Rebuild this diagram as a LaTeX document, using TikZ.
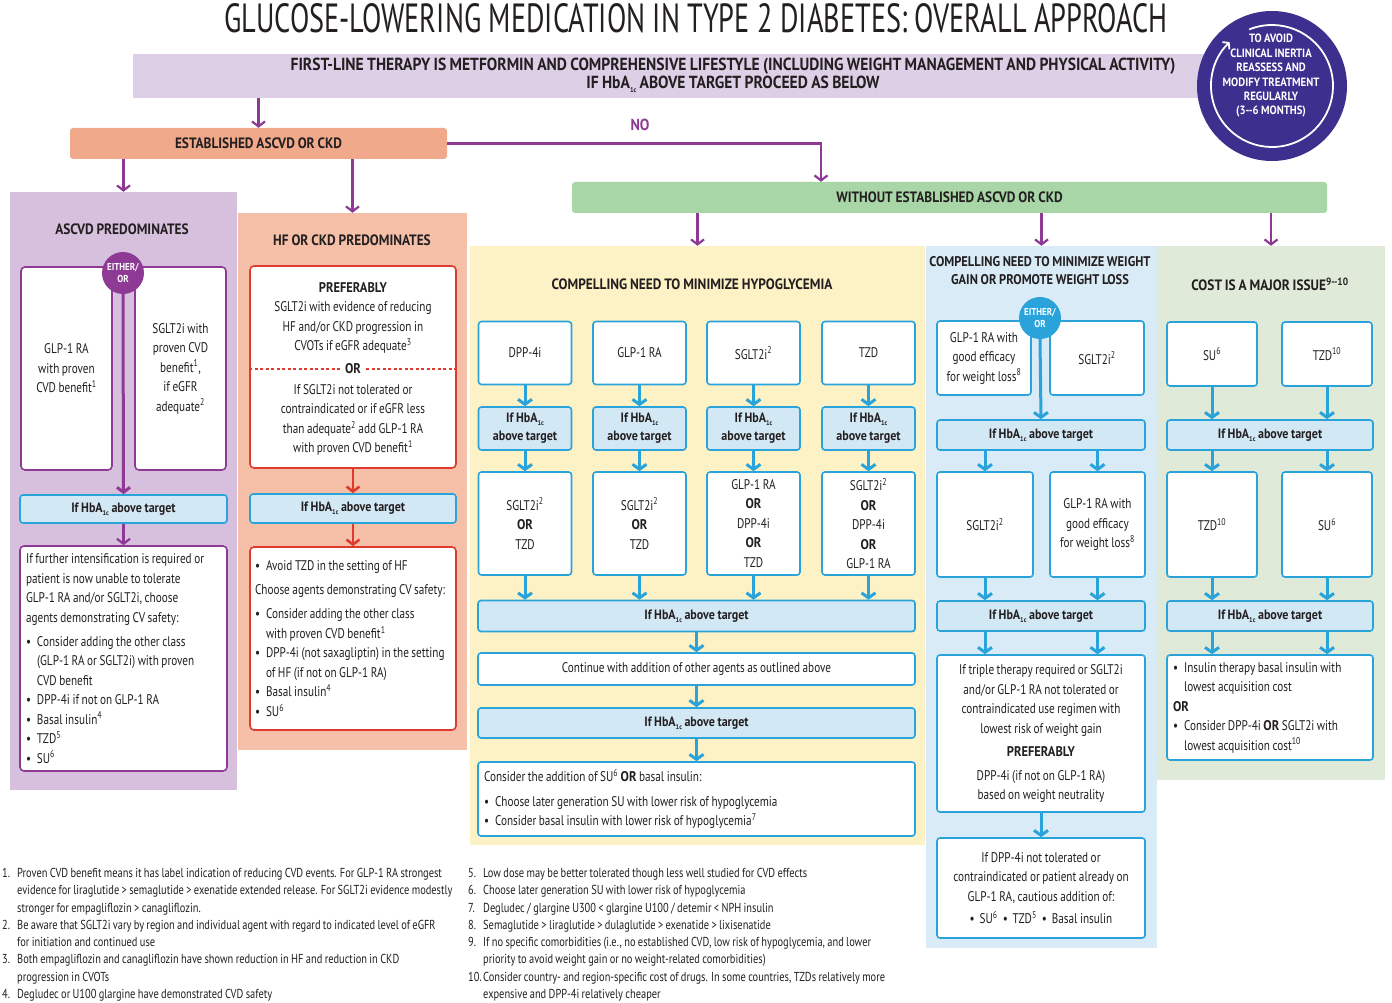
\documentclass[tikz,border=0pt]{standalone}
\usepackage{fontspec}
\usepackage{graphicx}
\setmainfont{PT Sans}[FakeStretch=0.8, WordSpace=0.85]
\newfontfamily\hdfont{PT Sans}[FakeStretch=0.89, WordSpace=0.85]
\newfontfamily\titlefont{PT Sans}[FakeStretch=0.6]
\usetikzlibrary{arrows.meta,calc}
\definecolor{purp}{HTML}{8E3A95}
\definecolor{lav}{HTML}{DDCFE6}
\definecolor{lavcol}{HTML}{D6C0DD}
\definecolor{salm}{HTML}{F0A98A}
\definecolor{salmcol}{HTML}{F5C0A7}
\definecolor{hfred}{HTML}{DE3B2E}
\definecolor{grn}{HTML}{A9D6A6}
\definecolor{grncol}{HTML}{DFEAD9}
\definecolor{yel}{HTML}{FDF2C6}
\definecolor{blucol}{HTML}{D9EBF6}
\definecolor{cyn}{HTML}{2AA3DA}
\definecolor{hbfill}{HTML}{D3E8F5}
\definecolor{indigo}{HTML}{3C2F8E}
\definecolor{ink}{HTML}{231F20}
\newcommand\hba{HbA\raisebox{-0.45ex}{\fontsize{7}{7}\selectfont 1c}}
\newcommand\sps[1]{\textsuperscript{#1}}
\newcommand\bodyfont{\fontsize{14}{19.5}\selectfont}
\newcommand\headfont{\hdfont\bfseries\fontsize{15}{18}\selectfont}
\newcommand\B[1]{{\hdfont\bfseries #1}}
\newcommand\bul{\makebox[11pt][l]{•}}
\newcommand\ind{\hspace*{11pt}}
\newcommand\fnum[1]{\makebox[15pt][l]{#1}}
\hyphenpenalty=10000
\begin{document}
\begin{tikzpicture}[x=1pt,y=-1pt,
  base/.style={inner sep=0pt, align=center, font=\bodyfont, text=ink},
  sz/.style 2 args={minimum width=#1pt, minimum height=#2pt},
  colbg/.style={inner sep=0pt, draw=none},
  head/.style={base, font=\headfont},
  pbox/.style={base, draw=purp, line width=1.6pt, rounded corners=4pt, fill=white},
  rbox/.style={base, draw=hfred, line width=1.6pt, rounded corners=4pt, fill=white},
  cbox/.style={base, draw=cyn, line width=1.6pt, rounded corners=3pt, fill=white},
  hbox/.style={base, draw=cyn, line width=1.6pt, rounded corners=3pt, fill=hbfill, font=\hdfont\bfseries\fontsize{13.5}{18}\selectfont},
  lft/.style={align=flush left, text width=#1pt, inner xsep=6pt},
  parr/.style={draw=purp, line width=2.2pt, -{Straight Barb[length=5pt,width=13pt]}},
  rarr/.style={draw=hfred, line width=2.6pt, -{Straight Barb[length=5pt,width=13pt]}},
  carr/.style={draw=cyn, line width=3pt, -{Straight Barb[length=5pt,width=14pt]}},
  eo/.style={circle, inner sep=0pt, minimum size=42pt, text=white, align=center, font=\hdfont\bfseries\fontsize{10}{12}\selectfont}
]
\useasboundingbox (0,0) rectangle (1392,1003);
\fill[white] (0,0) rectangle (1392,1003);

% ---------- title and header
\node[base] (title) at (696,18.5) {\resizebox{943pt}{29pt}{\titlefont GLUCOSE-LOWERING MEDICATION IN TYPE 2 DIABETES: OVERALL APPROACH}};
\node[colbg, fill=lav, sz={1077}{44}] (hdr) at (671.5,76) {};
\node[base, font=\hdfont\bfseries\fontsize{17.5}{18}\selectfont] (hdrt) at (733,75) {FIRST-LINE THERAPY IS METFORMIN AND COMPREHENSIVE LIFESTYLE (INCLUDING WEIGHT MANAGEMENT AND PHYSICAL ACTIVITY)\\IF \hba{} ABOVE TARGET PROCEED AS BELOW};

\node[circle, fill=indigo, minimum size=150pt, inner sep=0pt] (circ) at (1272,86) {};
\draw[white, line width=1.8pt, -{Straight Barb[length=4pt,width=10pt]}] ([shift={(112:61pt)}]circ.center) arc[start angle=112, end angle=-226, radius=61pt];
\node[base, text=white, font=\hdfont\bfseries\fontsize{12}{14.4}\selectfont] (circt) at (1271,76) {TO AVOID\\CLINICAL INERTIA\\REASSESS AND\\MODIFY TREATMENT\\REGULARLY\\(3--6 MONTHS)};

% ---------- second level
\node[base, fill=salm, rounded corners=3pt, sz={377}{31}, font=\headfont] (est) at (258.5,143.5) {ESTABLISHED ASCVD OR CKD};
\node[base, text=purp, font=\hdfont\bfseries\fontsize{16}{16}\selectfont] (no) at (640,125) {NO};
\node[base, fill=grn, rounded corners=3pt, sz={755}{31}, font=\headfont] (wo) at (949.5,197.5) {WITHOUT ESTABLISHED ASCVD OR CKD};
\coordinate (nobend) at (821,146);

% ---------- column backgrounds
\node[colbg, fill=lavcol, sz={227}{598}] (ascol) at (123.5,491) {};
\node[colbg, fill=salmcol, sz={229}{537}] (hfcol) at (352.5,481.5) {};
\node[colbg, fill=yel, sz={455}{599}] (ycol) at (697.5,545.5) {};
\node[colbg, fill=blucol, sz={231}{702}] (wcol) at (1041.5,597) {};
\node[colbg, fill=grncol, sz={228}{534}] (ccol) at (1271,513) {};

\draw[parr] (hdr.south -| est.north) -- (est.north);
\draw[parr] (est.east) -| (nobend |- wo.north);
\draw[parr] (est.south -| ascol.north) -- (ascol.north);
\draw[parr] (est.south -| hfcol.north) -- (hfcol.north);
\draw[parr] (wo.south -| ycol.north) -- (ycol.north);
\draw[parr] (wo.south -| wcol.north) -- (wcol.north);
\draw[parr] (wo.south -| ccol.north) -- (ccol.north);

% ---------- ASCVD column
\node[head] (asti) at (122,229) {ASCVD PREDOMINATES};
\node[pbox, sz={91}{203}] (aL) at (66.5,368.5) {GLP-1 RA\\with proven\\CVD benefit\sps{1}};
\node[pbox, sz={91}{203}] (aR) at (180.5,368.5) {SGLT2i with\\proven CVD\\benefit\sps{1},\\if eGFR\\adequate\sps{2}};
\node[hbox, sz={207}{28}] (ah) at (123.5,509) {If \hba{} above target};
\node[pbox, sz={207}{225}, lft=195] (ab) at (123.5,658.5) {If further intensification is required or\\patient is now unable to tolerate\\GLP-1 RA and/or SGLT2i, choose\\agents demonstrating CV safety:\\[4.5pt]\bul Consider adding the other class\\\ind (GLP-1 RA or SGLT2i) with proven\\\ind CVD benefit\\\bul DPP-4i if not on GLP-1 RA\\\bul Basal insulin\sps{4}\\\bul TZD\sps{5}\\\bul SU\sps{6}};
\node[eo, fill=purp] (aeo) at (123,273) {EITHER/\\OR};
\draw[parr, line width=3pt] (aeo.south) -- (ah.north);
\draw[parr] (ah.south) -- (ab.north);

% ---------- HF column
\node[head] (hfti) at (352,240) {HF OR CKD PREDOMINATES};
\node[rbox, sz={206}{202}] (hT) at (353,367) {};
\node[base] (hTa) at (353,318) {\B{PREFERABLY}\\SGLT2i with evidence of reducing\\HF and/or CKD progression in\\CVOTs if eGFR adequate\sps{3}};
\node[base, font=\hdfont\bfseries\fontsize{14}{16}\selectfont, inner xsep=5pt] (hor) at (353,369) {OR};
\draw[hfred, line width=1.2pt, dash pattern=on 3pt off 2.5pt] (hT.west |- hor) -- (hor.west) (hor.east) -- (hT.east |- hor);
\node[base] (hTb) at (353,420) {If SGLT2i not tolerated or\\contraindicated or if eGFR less\\than adequate\sps{2} add GLP-1 RA\\with proven CVD benefit\sps{1}};
\node[hbox, sz={206}{29}] (hh) at (353,508.5) {If \hba{} above target};
\node[rbox, sz={206}{183}, lft=196, inner xsep=5pt] (hb) at (353,638.5) {\bul Avoid TZD in the setting of HF\\[4.5pt]Choose agents demonstrating CV safety:\\[5pt]\bul Consider adding the other class\\\ind with proven CVD benefit\sps{1}\\\bul DPP-4i (not saxagliptin) in the setting\\\ind of HF (if not on GLP-1 RA)\\\bul Basal insulin\sps{4}\\\bul SU\sps{6}};
\draw[rarr] (hT.south) -- (hh.north);
\draw[rarr] (hh.south) -- (hb.north);

% ---------- hypoglycemia column
\node[head] (yti) at (692,284) {COMPELLING NEED TO MINIMIZE HYPOGLYCEMIA};
\node[cbox, sz={93}{63}] (y1a) at (525,353) {DPP-4i};
\node[cbox, sz={93}{63}] (y1b) at (639.5,353) {GLP-1 RA};
\node[cbox, sz={93}{63}] (y1c) at (753.5,353) {SGLT2i\sps{2}};
\node[cbox, sz={93}{63}] (y1d) at (868.5,353) {TZD};
\node[hbox, sz={93}{43}] (y2a) at (525,428.5) {If \hba\\above target};
\node[hbox, sz={93}{43}] (y2b) at (639.5,428.5) {If \hba\\above target};
\node[hbox, sz={93}{43}] (y2c) at (753.5,428.5) {If \hba\\above target};
\node[hbox, sz={93}{43}] (y2d) at (868.5,428.5) {If \hba\\above target};
\node[cbox, sz={93}{103}] (y3a) at (525,523.5) {SGLT2i\sps{2}\\\B{OR}\\TZD};
\node[cbox, sz={93}{103}] (y3b) at (639.5,523.5) {SGLT2i\sps{2}\\\B{OR}\\TZD};
\node[cbox, sz={93}{103}] (y3c) at (753.5,523.5) {GLP-1 RA\\\B{OR}\\DPP-4i\\\B{OR}\\TZD};
\node[cbox, sz={93}{103}] (y3d) at (868.5,523.5) {SGLT2i\sps{2}\\\B{OR}\\DPP-4i\\\B{OR}\\GLP-1 RA};
\node[hbox, sz={437}{31}] (yh1) at (696.5,616) {If \hba{} above target};
\node[cbox, sz={437}{32}] (ycont) at (696.5,669) {Continue with addition of other agents as outlined above};
\node[hbox, sz={437}{30}] (yh2) at (696.5,723) {If \hba{} above target};
\node[cbox, sz={437}{74}, lft=425] (ybot) at (696.5,799) {Consider the addition of SU\sps{6} \B{OR} basal insulin:\\[5pt]\bul Choose later generation SU with lower risk of hypoglycemia\\\bul Consider basal insulin with lower risk of hypoglycemia\sps{7}};
\foreach \c in {a,b,c,d}{
  \draw[carr] (y1\c.south) -- (y2\c.north);
  \draw[carr] (y2\c.south) -- (y3\c.north);
  \draw[carr] (y3\c.south) -- (y3\c.south |- yh1.north);
}
\draw[carr] (yh1.south) -- (ycont.north);
\draw[carr] (ycont.south) -- (yh2.north);
\draw[carr] (yh2.south) -- (ybot.north);

% ---------- weight column
\node[head, font=\hdfont\bfseries\fontsize{14}{18}\selectfont] (wti) at (1040,271) {COMPELLING NEED TO MINIMIZE WEIGHT\\GAIN OR PROMOTE WEIGHT LOSS};
\node[cbox, sz={94}{74}] (wa) at (984,358) {GLP-1 RA with\\good efficacy\\for weight loss\sps{8}};
\node[cbox, sz={94}{74}] (wb) at (1097,358) {SGLT2i\sps{2}};
\node[hbox, sz={208}{30}] (wh1) at (1041,435) {If \hba{} above target};
\node[cbox, sz={96}{105}] (wb1) at (985,524.5) {SGLT2i\sps{2}};
\node[cbox, sz={95}{105}] (wb2) at (1097.5,524.5) {GLP-1 RA with\\good efficacy\\for weight loss\sps{8}};
\node[hbox, sz={208}{30}] (wh2) at (1041,616) {If \hba{} above target};
\node[cbox, sz={208}{157}] (wc) at (1041,733.5) {If triple therapy required or SGLT2i\\and/or GLP-1 RA not tolerated or\\contraindicated use regimen with\\lowest risk of weight gain\\[4pt]\B{PREFERABLY}\\[4pt]DPP-4i (if not on GLP-1 RA)\\based on weight neutrality};
\node[cbox, sz={208}{100}] (wd) at (1041,888) {If DPP-4i not tolerated or\\contraindicated or patient already on\\GLP-1 RA, cautious addition of:\\[3pt]•\, SU\sps{6}\ \ •\, TZD\sps{5}\ \ •\, Basal insulin};
\node[eo, fill=cyn] (weo) at (1040,318) {EITHER/\\OR};
\draw[carr] (weo.south) -- (wh1.north);
\draw[carr] (wb1.north |- wh1.south) -- (wb1.north);
\draw[carr] (wb2.north |- wh1.south) -- (wb2.north);
\draw[carr] (wb1.south) -- (wb1.south |- wh2.north);
\draw[carr] (wb2.south) -- (wb2.south |- wh2.north);
\draw[carr] (wb1.south |- wh2.south) -- (wb1.south |- wc.north);
\draw[carr] (wb2.south |- wh2.south) -- (wb2.south |- wc.north);
\draw[carr] (wc.south) -- (wd.north);

% ---------- cost column
\node[head] (cti) at (1270,284) {COST IS A MAJOR ISSUE\sps{9--10}};
\node[cbox, sz={90}{64}] (ca) at (1212,354) {SU\sps{6}};
\node[cbox, sz={90}{64}] (cb) at (1327,354) {TZD\sps{10}};
\node[hbox, sz={206}{30}] (ch1) at (1270,435) {If \hba{} above target};
\node[cbox, sz={90}{105}] (cc) at (1212,524.5) {TZD\sps{10}};
\node[cbox, sz={90}{105}] (cd) at (1327,524.5) {SU\sps{6}};
\node[hbox, sz={206}{30}] (ch2) at (1270,616) {If \hba{} above target};
\node[cbox, sz={206}{105}, lft=194] (ce) at (1270,707.5) {\bul Insulin therapy basal insulin with\\\ind lowest acquisition cost\\\B{OR}\\\bul Consider DPP-4i \B{OR} SGLT2i with\\\ind lowest acquisition cost\sps{10}};
\draw[carr] (ca.south) -- (ca.south |- ch1.north);
\draw[carr] (cb.south) -- (cb.south |- ch1.north);
\draw[carr] (cc.north |- ch1.south) -- (cc.north);
\draw[carr] (cd.north |- ch1.south) -- (cd.north);
\draw[carr] (cc.south) -- (cc.south |- ch2.north);
\draw[carr] (cd.south) -- (cd.south |- ch2.north);
\draw[carr] (cc.south |- ch2.south) -- (cc.south |- ce.north);
\draw[carr] (cd.south |- ch2.south) -- (cd.south |- ce.north);

% ---------- footnotes
\node[base, anchor=north west, align=flush left, font=\fontsize{13}{17.3}\selectfont] (fnL) at (2,868) {\fnum{1.}Proven CVD benefit means it has label indication of reducing CVD events. For GLP-1 RA strongest\\\fnum{}evidence for liraglutide > semaglutide > exenatide extended release. For SGLT2i evidence modestly\\\fnum{}stronger for empagliflozin > canagliflozin.\\\fnum{2.}Be aware that SGLT2i vary by region and individual agent with regard to indicated level of eGFR\\\fnum{}for initiation and continued use\\\fnum{3.}Both empagliflozin and canagliflozin have shown reduction in HF and reduction in CKD\\\fnum{}progression in CVOTs\\\fnum{4.}Degludec or U100 glargine have demonstrated CVD safety};
\node[base, anchor=north west, align=flush left, font=\fontsize{13}{17.3}\selectfont] (fnR) at (468,868) {\fnum{5.}Low dose may be better tolerated though less well studied for CVD effects\\\fnum{6.}Choose later generation SU with lower risk of hypoglycemia\\\fnum{7.}Degludec / glargine U300 < glargine U100 / detemir < NPH insulin\\\fnum{8.}Semaglutide > liraglutide > dulaglutide > exenatide > lixisenatide\\\fnum{9.}If no specific comorbidities (i.e., no established CVD, low risk of hypoglycemia, and lower\\\fnum{}priority to avoid weight gain or no weight-related comorbidities)\\\fnum{10.}Consider country- and region-specific cost of drugs. In some countries, TZDs relatively more\\\fnum{}expensive and DPP-4i relatively cheaper};
\end{tikzpicture}
\end{document}
